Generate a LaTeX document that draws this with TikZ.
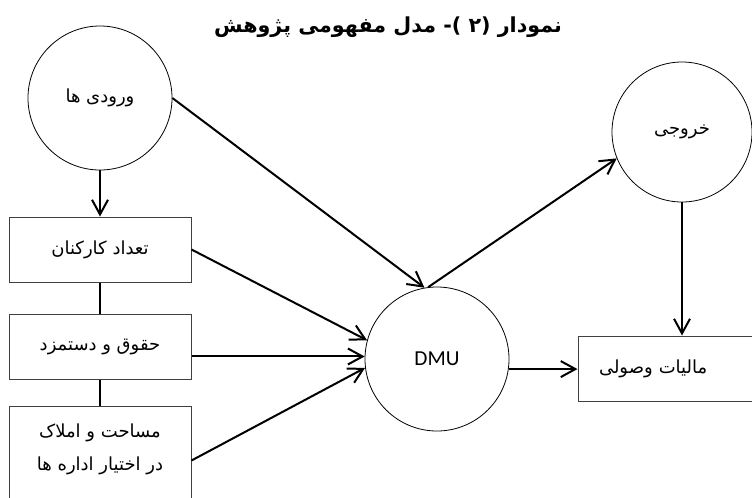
\documentclass[tikz,border=0pt]{standalone}
\usepackage{fontspec}
\usetikzlibrary{arrows.meta}
\TeXXeTstate=1
\newfontfamily\farsi[Script=Arabic]{DejaVu Sans}
\newfontfamily\dmufont{Carlito}

\begin{document}
\begin{tikzpicture}[x=0.75pt, y=-0.75pt,
  every node/.style={font=\farsi\fontsize{13.5}{24.75}\selectfont},
  circ/.style={draw, circle, line width=0.6pt, minimum size=108pt, inner sep=0pt},
  box/.style={draw=black!75, rectangle, line width=0.75pt, minimum width=136.5pt, minimum height=48.75pt, inner sep=0pt},
  flow/.style={line width=1.5pt, -{Straight Barb[length=11pt, width=12pt]}},
  link/.style={line width=1pt}]

\useasboundingbox (0,0) rectangle (752,497);
\clip (0,0) rectangle (752,497);
\fill[white] (0,0) rectangle (752,497);

% title
\node[font=\farsi\bfseries\fontsize{15.5}{18}\selectfont] (title) at (388,27) {\beginR نمودار (۲ )- مدل مفهومی پژوهش\endR};

% inputs
\node[circ] (inp) at (100,98) {\beginR ورودی ها\endR};
\node[box] (staff) at (100,249.5) {\beginR تعداد کارکنان\endR};
\node[box] (salary) at (100,346.5) {\beginR حقوق و دستمزد\endR};
\node[box, align=center, text height=48pt, text depth=33.75pt] (estate) at (100,460.5)
  {\beginR مساحت و املاک\endR\\\beginR در اختیار اداره ها\endR};

% unit and output
\node[circ, font=\dmufont\fontsize{16}{19}\selectfont] (dmu) at (437,359) {DMU};
\node[circ, minimum size=105pt] (outp) at (682,132) {\beginR خروجی\endR};
\node[box, text width=105pt, align=left, inner xsep=15.75pt] (tax) at (669,368.5) {\beginR مالیات وصولی\endR};

\draw[link] (staff) -- (salary);
\draw[link] (salary) -- (estate);
\draw[flow] (inp) -- (staff);
\draw[flow] (inp.east) -- (dmu.100);
\draw[flow] (staff.east) -- (dmu.165);
\draw[flow] (salary.east |- dmu.178) -- (dmu.178);
\draw[flow] (estate.east) -- (dmu.187);
\draw[flow] (dmu.97) -- (outp.202);
\draw[flow] (dmu.352) -- (dmu.352 -| tax.west);
\draw[flow] (outp) -- (outp |- tax.north);

\end{tikzpicture}
\end{document}
